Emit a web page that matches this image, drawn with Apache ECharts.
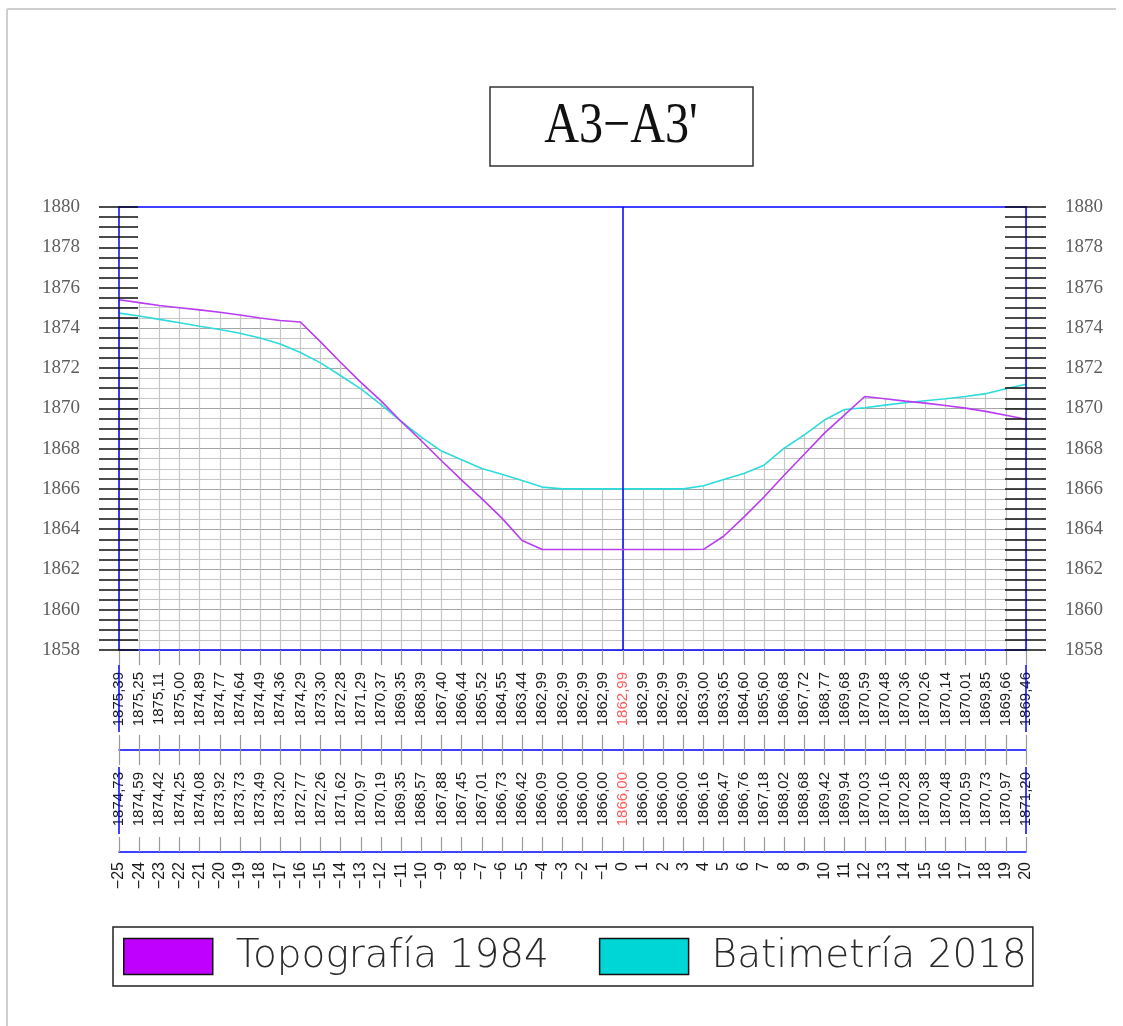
<!DOCTYPE html>
<html>
<head>
<meta charset="utf-8">
<title>A3-A3' perfil</title>
<script src="https://cdn.jsdelivr.net/npm/echarts@6/dist/echarts.min.js"></script>
<style>
  html, body { margin: 0; padding: 0; background: #fff; }
  #chart { width: 1123px; height: 1026px; }
</style>
</head>
<body>
<div id="chart"></div>
<script>
// Station positions along the section (m)
const stations = [-25, -24, -23, -22, -21, -20, -19, -18, -17, -16, -15, -14, -13, -12, -11, -10,
  -9, -8, -7, -6, -5, -4, -3, -2, -1, 0, 1, 2, 3, 4, 5, 6, 7, 8, 9, 10,
  11, 12, 13, 14, 15, 16, 17, 18, 19, 20];

// Ground elevation, 1984 survey (m.s.n.m.)
const topo1984 = [1875.39, 1875.25, 1875.11, 1875.00, 1874.89, 1874.77, 1874.64, 1874.49, 1874.36, 1874.29,
  1873.30, 1872.28, 1871.29, 1870.37, 1869.35, 1868.39, 1867.40, 1866.44, 1865.52, 1864.55,
  1863.44, 1862.99, 1862.99, 1862.99, 1862.99, 1862.99, 1862.99, 1862.99, 1862.99, 1863.00,
  1863.65, 1864.60, 1865.60, 1866.68, 1867.72, 1868.77, 1869.68, 1870.59, 1870.48, 1870.36,
  1870.26, 1870.14, 1870.01, 1869.85, 1869.66, 1869.46];

// Bed elevation, 2018 bathymetry (m.s.n.m.)
const bati2018 = [1874.73, 1874.59, 1874.42, 1874.25, 1874.08, 1873.92, 1873.73, 1873.49, 1873.20, 1872.77,
  1872.26, 1871.62, 1870.97, 1870.19, 1869.35, 1868.57, 1867.88, 1867.45, 1867.01, 1866.73,
  1866.42, 1866.09, 1866.00, 1866.00, 1866.00, 1866.00, 1866.00, 1866.00, 1866.00, 1866.16,
  1866.47, 1866.76, 1867.18, 1868.02, 1868.68, 1869.42, 1869.94, 1870.03, 1870.16, 1870.28,
  1870.38, 1870.48, 1870.59, 1870.73, 1870.97, 1871.20];

const seriesNames = ['Topografía 1984', 'Batimetría 2018'];
const sectionTitle = "A3\u2212A3'";

// Elevation scale
const yMin = 1858, yMax = 1880, yStep = 0.5;

const BLUE = '#0000ff';
const GRID_GRAY = '#c6c6c6';
const GRID_DARK = '#a4a4a4';
const TICK_GRAY = '#9a9a9a';

const topoPts = stations.map((x, i) => [x, topo1984[i]]);
const batiPts = stations.map((x, i) => [x, bati2018[i]]);

// Upper envelope of both profiles; the grid is only shown beneath it
const envelope = [];
for (let i = 0; i < stations.length; i++) {
  envelope.push([stations[i], Math.max(topo1984[i], bati2018[i])]);
  if (i < stations.length - 1) {
    const d0 = topo1984[i] - bati2018[i];
    const d1 = topo1984[i + 1] - bati2018[i + 1];
    if (d0 * d1 < 0) {
      const t = d0 / (d0 - d1);
      const x = stations[i] + t * (stations[i + 1] - stations[i]);
      const y = topo1984[i] + t * (topo1984[i + 1] - topo1984[i]);
      envelope.push([x, y]);
    }
  }
}

const fmtElev = v => v.toFixed(2).replace('.', ',');
const idxOf = v => stations.indexOf(Math.round(Number(v)));
const redAtZero = v => (Math.round(Number(v)) === 0 ? '#ff5a5a' : '#1a1a1a');

const chart = echarts.init(document.getElementById('chart'), null, { renderer: 'canvas' });

const rowFont = { fontFamily: 'Liberation Sans, Arial, sans-serif', fontSize: 15 };
const elevLabelFont = { fontFamily: 'Liberation Serif, Times New Roman, serif', fontSize: 19, color: '#5e5e5e' };

const baseX = { type: 'value', gridIndex: 0, min: -25, max: 20, interval: 1 };
const baseY = { type: 'value', gridIndex: 0, min: yMin, max: yMax, interval: yStep };

const option = {
  animation: false,
  backgroundColor: '#fff',
  grid: { left: 119, right: 97, top: 207, bottom: 376, containLabel: false },
  xAxis: [
    // plot bottom line, vertical grid, 1984 elevations row
    Object.assign({}, baseX, {
      position: 'bottom', offset: 0, z: 0,
      axisLine: { show: true, onZero: false, lineStyle: { color: BLUE, width: 1.5 } },
      axisTick: { show: true, length: 15, lineStyle: { color: TICK_GRAY, width: 1.2 } },
      axisLabel: Object.assign({}, rowFont, {
        show: true, rotate: 90, margin: 22, showMinLabel: true, showMaxLabel: true,
        formatter: v => fmtElev(topo1984[idxOf(v)]), color: redAtZero
      }),
      splitLine: { show: true, lineStyle: { color: GRID_GRAY, width: 1.2 } }
    }),
    // separator between rows, ticks upward
    Object.assign({}, baseX, {
      position: 'bottom', offset: 100,
      axisLine: { show: true, onZero: false, lineStyle: { color: BLUE, width: 1.5 } },
      axisTick: { show: true, inside: true, length: 15, lineStyle: { color: TICK_GRAY, width: 1.2 } },
      axisLabel: { show: false }, splitLine: { show: false }
    }),
    // 2018 elevations row
    Object.assign({}, baseX, {
      position: 'bottom', offset: 100,
      axisLine: { show: false, onZero: false },
      axisTick: { show: true, length: 15, lineStyle: { color: TICK_GRAY, width: 1.2 } },
      axisLabel: Object.assign({}, rowFont, {
        show: true, rotate: 90, margin: 22, showMinLabel: true, showMaxLabel: true,
        formatter: v => fmtElev(bati2018[idxOf(v)]), color: redAtZero
      }),
      splitLine: { show: false }
    }),
    // station distances
    Object.assign({}, baseX, {
      position: 'bottom', offset: 202,
      axisLine: { show: true, onZero: false, lineStyle: { color: BLUE, width: 1.5 } },
      axisTick: { show: true, inside: true, length: 15, lineStyle: { color: TICK_GRAY, width: 1.2 } },
      axisLabel: {
        show: true, rotate: 90, margin: 10, showMinLabel: true, showMaxLabel: true,
        fontFamily: 'Liberation Sans, Arial, sans-serif', fontSize: 16, color: '#1a1a1a',
        formatter: v => (Number(v) < 0 ? '\u2212' + Math.abs(Number(v)) : String(v))
      },
      splitLine: { show: false }
    }),
    // plot top line
    Object.assign({}, baseX, {
      position: 'top', z: 10,
      axisLine: { show: true, onZero: false, lineStyle: { color: BLUE, width: 1.5 } },
      axisTick: { show: false }, axisLabel: { show: false }, splitLine: { show: false }
    })
  ],
  yAxis: [
    // horizontal grid
    Object.assign({}, baseY, {
      position: 'left', z: 0,
      axisLine: { show: false, onZero: false }, axisTick: { show: false }, axisLabel: { show: false },
      splitLine: { show: true, lineStyle: { color: [GRID_DARK, GRID_GRAY, GRID_GRAY, GRID_GRAY], width: 1.2 } }
    }),
    // left scale
    Object.assign({}, baseY, {
      position: 'left', z: 10,
      axisLine: { show: true, onZero: false, lineStyle: { color: BLUE, width: 1.5 } },
      axisTick: { show: true, length: 20, lineStyle: { color: '#111', width: 1.5 } },
      axisLabel: Object.assign({}, elevLabelFont, {
        show: true, margin: 39, showMinLabel: true, showMaxLabel: true,
        formatter: v => (Math.round(Number(v) * 2) % 4 === 0 ? String(v) : '')
      }),
      splitLine: { show: false }
    }),
    Object.assign({}, baseY, {
      position: 'left', z: 10,
      axisLine: { show: false, onZero: false },
      axisTick: { show: true, inside: true, length: 19, lineStyle: { color: '#111', width: 1.5 } },
      axisLabel: { show: false }, splitLine: { show: false }
    }),
    // right scale
    Object.assign({}, baseY, {
      position: 'right', z: 10,
      axisLine: { show: true, onZero: false, lineStyle: { color: BLUE, width: 1.5 } },
      axisTick: { show: true, length: 20, lineStyle: { color: '#111', width: 1.5 } },
      axisLabel: Object.assign({}, elevLabelFont, {
        show: true, margin: 39, showMinLabel: true, showMaxLabel: true,
        formatter: v => (Math.round(Number(v) * 2) % 4 === 0 ? String(v) : '')
      }),
      splitLine: { show: false }
    }),
    Object.assign({}, baseY, {
      position: 'right', z: 10,
      axisLine: { show: false, onZero: false },
      axisTick: { show: true, inside: true, length: 21, lineStyle: { color: '#111', width: 1.5 } },
      axisLabel: { show: false }, splitLine: { show: false }
    })
  ],
  legend: {
    left: 113, top: 927,
    orient: 'horizontal',
    padding: [10, 6, 10, 10],
    itemWidth: 89, itemHeight: 36, itemGap: 50,
    icon: 'rect',
    borderColor: '#222', borderWidth: 1.5, borderRadius: 0,
    backgroundColor: '#fff',
    selectedMode: false,
    textStyle: {
      fontFamily: 'DejaVu Sans, sans-serif', fontWeight: 200, fontSize: 39,
      color: '#2a2a2a', width: 313, lineHeight: 36, padding: [0, 0, 0, 18]
    },
    data: [
      { name: seriesNames[0], itemStyle: { color: '#bf00ff', borderColor: '#111', borderWidth: 1.5 } },
      { name: seriesNames[1], itemStyle: { color: '#00d6d6', borderColor: '#111', borderWidth: 1.5 } }
    ]
  },
  series: [
    {
      // blank out the grid above both profiles
      name: 'envelope', type: 'custom', xAxisIndex: 0, yAxisIndex: 0,
      silent: true, z: 2, clip: true,
      data: [[stations[0], yMax]],
      renderItem: (params, api) => {
        const pts = envelope.map(p => api.coord(p));
        pts.push(api.coord([stations[stations.length - 1], yMax]));
        pts.push(api.coord([stations[0], yMax]));
        return { type: 'polygon', shape: { points: pts }, style: { fill: '#fff', stroke: null } };
      }
    },
    {
      name: seriesNames[1], type: 'line', xAxisIndex: 0, yAxisIndex: 0,
      data: batiPts, symbol: 'none', showSymbol: false, z: 4,
      color: '#00d6d6',
      lineStyle: { color: '#2cdcdc', width: 1.6 }
    },
    {
      name: seriesNames[0], type: 'line', xAxisIndex: 0, yAxisIndex: 0,
      data: topoPts, symbol: 'none', showSymbol: false, z: 5,
      color: '#bf00ff',
      lineStyle: { color: '#b93cf2', width: 1.6 },
      markLine: {
        silent: true, symbol: 'none', label: { show: false },
        lineStyle: { color: BLUE, width: 1.5, type: 'solid' },
        data: [{ xAxis: 0 }]
      }
    }
  ]
};

chart.setOption(option);

// Frame, section title and the end markers of the data table
const xStart = chart.convertToPixel({ xAxisIndex: 0 }, stations[0]);
const xEnd = chart.convertToPixel({ xAxisIndex: 0 }, stations[stations.length - 1]);
const blueSeg = (x, y1, y2) => ({
  type: 'line', silent: true, z: 20,
  shape: { x1: x, y1: y1, x2: x, y2: y2 },
  style: { stroke: BLUE, lineWidth: 1.5 }
});

chart.setOption({
  graphic: [
    { type: 'line', silent: true, shape: { x1: 7, y1: 9, x2: 1116, y2: 9 }, style: { stroke: '#cfcfcf', lineWidth: 2 } },
    { type: 'line', silent: true, shape: { x1: 7, y1: 9, x2: 7, y2: 1026 }, style: { stroke: '#cfcfcf', lineWidth: 2 } },
    {
      type: 'rect', silent: true,
      shape: { x: 490, y: 87, width: 263, height: 79 },
      style: { fill: '#fff', stroke: '#333', lineWidth: 1.5 }
    },
    {
      type: 'text', silent: true, x: 621, y: 127, scaleX: 0.86,
      style: {
        text: sectionTitle, fill: '#111',
        font: '56px "Liberation Serif", "Times New Roman", serif',
        align: 'center', verticalAlign: 'middle'
      }
    },
    blueSeg(xStart, 665, 732),
    blueSeg(xEnd, 665, 732),
    blueSeg(xStart, 767, 834),
    blueSeg(xEnd, 767, 834)
  ]
});
</script>
</body>
</html>
